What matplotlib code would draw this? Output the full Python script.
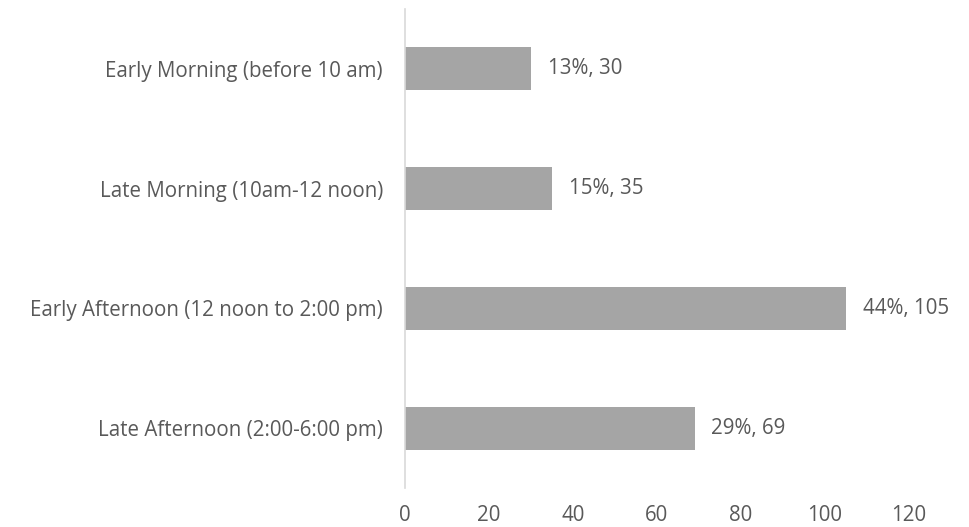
import matplotlib.pyplot as plt

plt.rcParams['font.family'] = ['Open Sans', 'DejaVu Sans']

# time slots, top to bottom
slots = ['Early Morning (before 10 am)',
         'Late Morning (10am-12 noon)',
         'Early Afternoon (12 noon to 2:00 pm)',
         'Late Afternoon (2:00-6:00 pm)']
counts = [30, 35, 105, 69]
pcts = [13, 15, 44, 29]
xticks = [0, 20, 40, 60, 80, 100, 120]

txt = '#595959'
fs = 14.8

fig = plt.figure(figsize=(9.7, 5.27), dpi=100)
ax = fig.add_axes([0.4175, 0.074, 0.5196, 0.909])

ypos = list(range(len(slots)))
ax.barh(ypos, counts, height=0.36, color='#A5A5A5')
ax.set_ylim(len(slots) - 0.5, -0.5)
ax.set_xlim(0, 120)
ax.set_yticks(ypos)
ax.set_yticklabels(slots)
ax.set_xticks(xticks)

for y, c, p in zip(ypos, counts, pcts):
    ax.annotate('%d%%, %d' % (p, c), (c, y), xytext=(12, 0),
                textcoords='offset points', va='center', ha='left',
                fontsize=fs, color=txt)

for s in ['top', 'right', 'bottom']:
    ax.spines[s].set_visible(False)
ax.spines['left'].set_color('#D9D9D9')
ax.spines['left'].set_linewidth(1.2)
ax.tick_params(axis='both', length=0, labelsize=fs, colors=txt)
ax.tick_params(axis='y', pad=16)
ax.tick_params(axis='x', pad=12)

fig.savefig('out.png', dpi=100)
